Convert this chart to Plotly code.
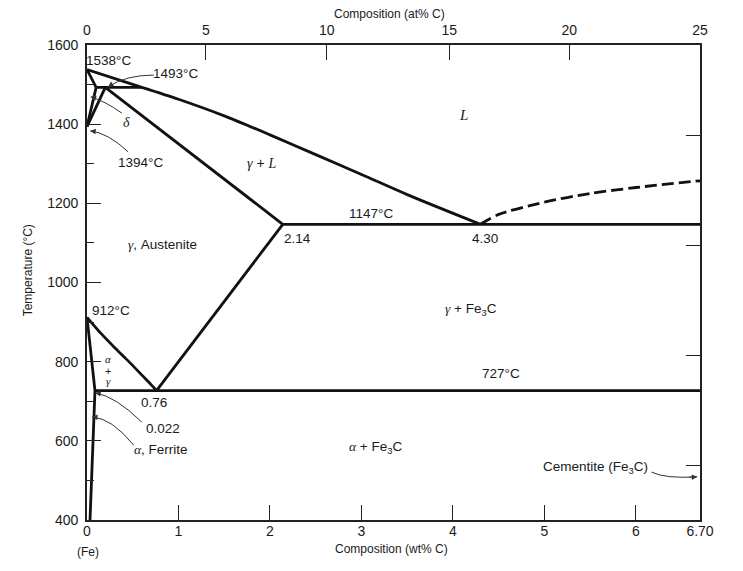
import plotly.graph_objects as go

# ---------------- data (wt% C, temperature °C) ----------------
liquidus_x = [0.0, 0.60, 1.0, 1.5, 2.0, 2.5, 3.0, 3.5, 4.30]
liquidus_t = [1538, 1493, 1463, 1421, 1373, 1323, 1273, 1222, 1147]

liq_dashed_x = [4.30, 4.5, 5.0, 5.5, 6.0, 6.70]
liq_dashed_t = [1147, 1172, 1203, 1225, 1240, 1257]

delta_solidus_x = [0.0, 0.10]
delta_solidus_t = [1538, 1493]

delta_solvus_x = [0.10, 0.0]
delta_solvus_t = [1493, 1394]

peritectic_x = [0.10, 0.60]
peritectic_t = [1493, 1493]

gamma_delta_x = [0.20, 0.0]
gamma_delta_t = [1493, 1394]

gamma_solidus_x = [0.20, 2.14]
gamma_solidus_t = [1493, 1147]

eutectic_x = [2.14, 6.70]
eutectic_t = [1147, 1147]

acm_x = [2.14, 0.76]
acm_t = [1147, 727]

a3_x = [0.0, 0.15, 0.30, 0.45, 0.60, 0.70, 0.76]
a3_t = [912, 872, 836, 802, 766, 742, 727]

alpha_x = [0.0, 0.045, 0.087, 0.033]
alpha_t = [912, 820, 727, 400]

eutectoid_x = [0.087, 6.70]
eutectoid_t = [727, 727]

wt_tickvals = [0, 1, 2, 3, 4, 5, 6, 6.70]
wt_ticktext = ["0", "1", "2", "3", "4", "5", "6", "6.70"]

at_tick_wt = [0, 1.30, 2.62, 3.96, 5.27, 6.70]
at_ticktext = ["0", "5", "10", "15", "20", "25"]

# right-hand Fahrenheit ticks (1000, 1500, 2000, 2500 °F) in °C
f_ticks_c = [537.8, 815.6, 1093.3, 1371.1]

LINE = "#111111"
FONT = "Liberation Sans, Arial, Helvetica, sans-serif"
SERIF = "Liberation Serif, Times New Roman, serif"

fig = go.Figure()


def seg(x, t, dash="solid", width=2.8, shape="linear"):
    fig.add_trace(go.Scatter(x=x, y=t, mode="lines",
                             line=dict(color=LINE, width=width, dash=dash, shape=shape,
                                       smoothing=0.8),
                             showlegend=False, hoverinfo="skip"))


seg(liquidus_x[1:], liquidus_t[1:], shape="spline")
seg(liquidus_x[:2], liquidus_t[:2])
seg(liq_dashed_x, liq_dashed_t, dash="12px,5px", shape="spline")
seg(delta_solidus_x, delta_solidus_t)
seg(delta_solvus_x, delta_solvus_t)
seg(peritectic_x, peritectic_t)
seg(gamma_delta_x, gamma_delta_t)
seg(gamma_solidus_x, gamma_solidus_t)
seg(eutectic_x, eutectic_t)
seg(acm_x, acm_t)
seg(a3_x, a3_t, shape="spline")
seg(alpha_x, alpha_t)
seg(eutectoid_x, eutectoid_t)

# carrier trace for the secondary (top / right) axes
fig.add_trace(go.Scatter(x=[None], y=[None], xaxis="x2", yaxis="y2",
                         showlegend=False, hoverinfo="skip"))


def g(s):
    return '<span style="font-family:%s"><i>%s</i></span>' % (SERIF, s)


ann = []
shapes = []


def label(x, y, text, size=13.5, xref="x", yref="y", angle=0):
    ann.append(dict(x=x, y=y, xref=xref, yref=yref, text=text, showarrow=False,
                    xanchor="center", yanchor="middle",
                    textangle=angle, font=dict(family=FONT, size=size, color="#1a1a1a")))


def arrow(tail, ctrl, tip):
    (tx, ty), (cx, cy), (hx, hy) = tail, ctrl, tip
    shapes.append(dict(type="path", xref="x", yref="y",
                       path="M %g,%g Q %g,%g %g,%g" % (tx, ty, cx, cy, hx, hy),
                       line=dict(color="#333333", width=1)))
    bx = hx + 0.3 * (cx - hx)
    by = hy + 0.3 * (cy - hy)
    ann.append(dict(x=hx, y=hy, ax=bx, ay=by, xref="x", yref="y", axref="x", ayref="y",
                    text="", showarrow=True, arrowhead=2, arrowsize=1.1, arrowwidth=1,
                    arrowcolor="#333333"))


label(0.23, 1562, "1538°C")
label(0.97, 1527, "1493°C")
label(0.43, 1405, g("δ"), size=14)
label(0.59, 1302, "1394°C")
label(4.11, 1423, g("L"), size=15)
label(1.91, 1302, g("γ") + " + " + g("L"), size=14)
label(3.10, 1174, "1147°C")
label(2.30, 1112, "2.14")
label(4.35, 1112, "4.30")
label(0.82, 1095, g("γ") + ", Austenite")
label(0.26, 930, "912°C")
label(4.20, 933, g("γ") + " + Fe<sub>3</sub>C")
label(0.23, 806, g("α"), size=11)
label(0.23, 777, "+", size=11)
label(0.23, 750, g("γ"), size=11)
label(4.52, 771, "727°C")
label(0.73, 698, "0.76")
label(0.83, 632, "0.022")
label(0.81, 577, g("α") + ", Ferrite")
label(3.15, 584, g("α") + " + Fe<sub>3</sub>C")
label(5.56, 533, "Cementite (Fe<sub>3</sub>C)")

arrow((0.73, 1524), (0.42, 1524), (0.23, 1494))
arrow((0.38, 1428), (0.20, 1458), (0.04, 1469))
arrow((0.45, 1330), (0.23, 1378), (0.035, 1383))
arrow((0.60, 647), (0.31, 713), (0.09, 721))
arrow((0.51, 589), (0.27, 658), (0.055, 660))
arrow((6.17, 521), (6.32, 504), (6.67, 509))

label(0.0016, -0.067, "(Fe)", size=12, xref="paper", yref="paper")
label(0.496, -0.061, "Composition (wt% C)", size=12, xref="paper", yref="paper")
label(0.493, 1.065, "Composition (at% C)", size=12, xref="paper", yref="paper")
label(-0.096, 0.526, "Temperature (°C)", size=12, xref="paper", yref="paper", angle=-90)

axis_common = dict(showgrid=False, zeroline=False, showline=True, linecolor="#222222",
                   linewidth=1.8, tickcolor="#222222", tickwidth=1.2,
                   tickfont=dict(family=FONT, size=14, color="#1a1a1a"))

fig.update_layout(
    width=735, height=563, autosize=False,
    margin=dict(l=79, r=43, t=37, b=51),
    paper_bgcolor="white", plot_bgcolor="white",
    annotations=ann, shapes=shapes,
    xaxis=dict(range=[0, 6.70], tickvals=wt_tickvals, ticktext=wt_ticktext,
               ticks="inside", ticklen=15, ticklabelstandoff=-3, **axis_common),
    yaxis=dict(range=[400, 1600], tick0=400, dtick=200, ticks="inside", ticklen=14,
               ticklabelstandoff=4,
               minor=dict(dtick=100, ticks="inside", ticklen=7, tickwidth=1.2,
                          tickcolor="#222222"),
               **axis_common),
    xaxis2=dict(range=[0, 6.70], overlaying="x", side="top", anchor="y2",
                tickvals=at_tick_wt, ticktext=at_ticktext, ticks="inside", ticklen=15,
                ticklabelstandoff=3, **axis_common),
    yaxis2=dict(range=[400, 1600], overlaying="y", side="right", anchor="x2",
                tickvals=f_ticks_c, showticklabels=False, ticks="inside", ticklen=14,
                **axis_common),
)

fig.write_html("out.html")
